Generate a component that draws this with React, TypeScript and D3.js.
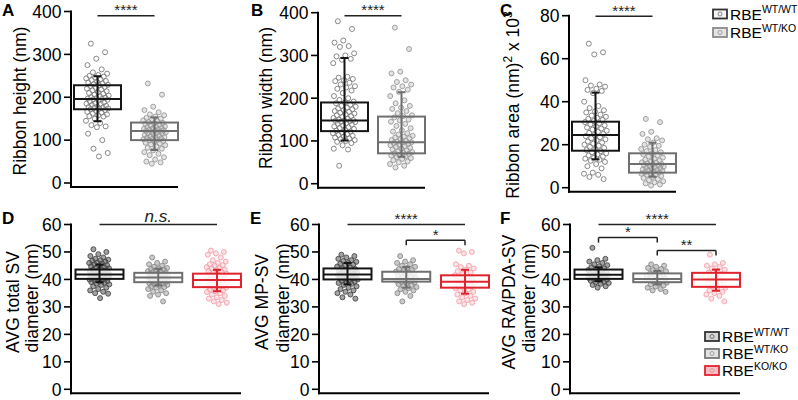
import React from 'react';
import * as d3 from 'd3';

const FONT = '"Liberation Sans", Arial, Helvetica, sans-serif';

const topGenotypes = ['WT/WT', 'WT/KO'];
const bottomGenotypes = ['WT/WT', 'WT/KO', 'KO/KO'];

const ribbonTicks = [0, 100, 200, 300, 400];
const areaTicks = [0, 20, 40, 60, 80];
const svTicks = [0, 10, 20, 30, 40, 50, 60];

// box stats per genotype: [whisker low, Q1, median, Q3, whisker high]
const heightBoxes = [[144, 172, 196, 228, 249], [77, 100, 121, 141, 153]];
const widthBoxes = [[101, 123, 148, 190, 294], [63, 71, 97, 157, 214]];
const areaBoxes = [[13.2, 17.2, 24.5, 30.7, 44.2], [5.1, 7, 11, 16, 20.9]];
const totalSvBoxes = [[39, 40.2, 41.8, 43.6, 45.4], [37.8, 39, 40.7, 42.4, 43.9], [35.7, 37.2, 39.8, 42.1, 43.5]];
const mpSvBoxes = [[38.2, 40, 41.8, 44, 46], [37, 39.2, 40.2, 42.8, 44.5], [34.8, 37, 39.2, 41.5, 43.5]];
const raSvBoxes = [[39.4, 40.2, 41.7, 43.6, 44.4], [38.2, 39, 40.2, 42.2, 43.1], [35.9, 37.3, 40, 42.4, 43.6]];

// individual ribbons (nm)
const heightWT = [325, 305, 290, 275, 265, 258, 255, 252, 250, 248, 246, 244, 242, 240, 238, 236, 234, 232, 230, 229, 228, 226, 224, 222, 220, 218, 216, 214, 212, 210, 208, 206, 204, 202, 200, 199, 198, 197, 196, 195, 194, 192, 190, 188, 186, 185, 184, 182, 180, 178, 177, 176, 175, 174, 173, 172, 170, 168, 166, 164, 162, 160, 158, 156, 155, 150, 145, 140, 135, 132, 130, 115, 100, 80, 70, 62];
const heightHet = [232, 206, 178, 170, 165, 160, 158, 155, 152, 150, 148, 146, 144, 142, 140, 139, 138, 136, 134, 132, 131, 130, 128, 127, 126, 125, 124, 123, 122, 121, 120, 119, 118, 117, 116, 115, 114, 112, 110, 108, 107, 106, 105, 104, 103, 102, 101, 100, 98, 96, 94, 92, 90, 88, 85, 82, 80, 76, 72, 68, 65, 60, 55, 50, 48, 45];
const widthWT = [380, 362, 335, 330, 322, 320, 305, 300, 298, 292, 290, 282, 250, 248, 245, 242, 240, 236, 232, 228, 225, 222, 218, 212, 205, 200, 196, 192, 190, 188, 185, 182, 180, 178, 176, 174, 172, 170, 168, 166, 164, 162, 160, 158, 156, 154, 152, 150, 149, 148, 147, 146, 145, 144, 142, 140, 138, 136, 134, 132, 130, 128, 126, 124, 122, 120, 118, 116, 114, 112, 110, 108, 106, 104, 102, 100, 98, 95, 90, 82, 80, 42];
const widthHet = [365, 315, 262, 258, 242, 238, 232, 228, 225, 220, 215, 205, 195, 188, 182, 178, 175, 170, 165, 160, 158, 155, 150, 148, 145, 140, 135, 130, 125, 122, 118, 115, 112, 110, 108, 106, 104, 102, 100, 98, 97, 96, 95, 93, 91, 90, 88, 86, 84, 82, 80, 78, 76, 74, 72, 71, 70, 68, 66, 64, 62, 60, 58, 55, 52, 50, 46, 42, 38];
// ribbon area (nm^2 x 10^3)
const areaWT = [67, 63, 62, 50, 48, 47.5, 47, 46, 45.5, 45, 44, 40, 38, 37, 36, 35.5, 35, 34, 33.5, 33, 32.5, 32, 31.5, 31, 30.5, 30, 29.5, 29, 28.5, 28, 27.5, 27, 26.5, 26, 25.5, 25, 24.5, 24, 23.5, 23, 22.5, 22, 21.5, 21, 20.5, 20, 19.5, 19, 18.5, 18, 17.5, 17, 16.5, 16, 15.5, 15, 14.5, 14, 13.5, 13, 12.5, 12, 11, 10, 9, 7, 6.5, 6, 5, 4];
const areaHet = [32, 30.5, 26, 25, 23, 22.5, 22, 21, 20, 19.5, 19, 18, 17.5, 17, 16.5, 16, 15.5, 15, 14.5, 14, 13.5, 13, 12.5, 12, 11.8, 11.5, 11.2, 11, 10.8, 10.5, 10.2, 10, 9.8, 9.5, 9.2, 9, 8.8, 8.5, 8.2, 8, 7.8, 7.5, 7.2, 7, 6.8, 6.5, 6.2, 6, 5.5, 5, 4.5, 4, 3.5, 3, 2.5, 2, 1.5, 1];

// synaptic vesicle diameters (nm)
const totalSvWT = [51, 50, 49.2, 48.5, 48, 47.5, 47.2, 47, 46.8, 46.5, 46.2, 46, 45.8, 45.5, 45.2, 45, 44.8, 44.5, 44.2, 44, 43.8, 43.5, 43.3, 43.1, 43, 42.8, 42.6, 42.4, 42.2, 42, 41.9, 41.8, 41.7, 41.6, 41.5, 41.4, 41.3, 41.2, 41, 40.8, 40.6, 40.5, 40.4, 40.3, 40.2, 40, 39.8, 39.6, 39.4, 39.2, 39, 38.8, 38.5, 38.2, 38, 37.5, 37, 36.5, 36, 35.5, 35, 34.8, 33.2];
const totalSvHet = [48, 46.5, 46, 45.5, 45, 44.6, 44.2, 44, 43.8, 43.5, 43.2, 43, 42.8, 42.6, 42.4, 42.2, 42, 41.8, 41.6, 41.4, 41.2, 41, 40.9, 40.8, 40.7, 40.6, 40.5, 40.4, 40.3, 40.2, 40, 39.8, 39.6, 39.4, 39.2, 39, 38.8, 38.6, 38.4, 38.2, 38, 37.8, 37.5, 37.2, 37, 36.5, 36, 35.5, 35, 34.5, 34, 32];
const totalSvKO = [50.5, 50, 49.5, 49, 48, 47, 46.5, 46, 45.5, 45.2, 45, 44.5, 44.2, 44, 43.6, 43.2, 43, 42.7, 42.4, 42.1, 41.8, 41.5, 41.2, 41, 40.7, 40.4, 40.2, 40, 39.8, 39.6, 39.4, 39.2, 39, 38.7, 38.4, 38.2, 38, 37.7, 37.4, 37.2, 37, 36.7, 36.4, 36, 35.7, 35.4, 35, 34.5, 34, 33.5, 33, 32.5, 32, 31.5, 31];
const mpSvWT = [49, 48.5, 48, 47.5, 47, 46.7, 46.4, 46, 45.7, 45.4, 45, 44.7, 44.4, 44.1, 43.8, 43.5, 43.2, 43, 42.8, 42.6, 42.4, 42.2, 42, 41.8, 41.6, 41.4, 41.2, 41, 40.8, 40.6, 40.4, 40.2, 40, 39.8, 39.5, 39.2, 39, 38.7, 38.4, 38, 37.5, 37, 36.5, 36, 35.5, 35, 34.5, 33.5, 33];
const mpSvHet = [48.5, 47, 46.5, 46, 45.5, 45, 44.6, 44.2, 43.8, 43.4, 43, 42.8, 42.5, 42.2, 42, 41.7, 41.4, 41.1, 40.8, 40.5, 40.3, 40.1, 39.9, 39.7, 39.5, 39.3, 39.1, 38.9, 38.6, 38.3, 38, 37.6, 37.2, 36.8, 36.4, 36, 35.5, 35, 34, 32];
const mpSvKO = [50.5, 50, 49.5, 45.5, 45, 44.5, 44, 43.5, 43, 42.5, 42, 41.5, 41, 40.6, 40.2, 39.8, 39.5, 39.2, 39, 38.7, 38.4, 38, 37.6, 37.2, 36.8, 36.4, 36, 35.5, 35, 34.5, 34, 33.5, 33, 32.5, 32, 31.5, 31];
const raSvWT = [51.5, 47.5, 47, 46.5, 46, 45.5, 45.2, 44.8, 44.4, 44, 43.7, 43.4, 43.1, 42.8, 42.5, 42.3, 42.1, 41.9, 41.7, 41.5, 41.3, 41.1, 40.9, 40.7, 40.5, 40.3, 40.1, 39.9, 39.7, 39.5, 39.2, 39, 38.7, 38.4, 38, 37.5, 37];
const raSvHet = [45.5, 45, 44.6, 44.2, 43.8, 43.4, 43, 42.6, 42.2, 41.8, 41.5, 41.2, 40.9, 40.6, 40.3, 40, 39.7, 39.4, 39.1, 38.8, 38.5, 38.2, 37.8, 37.4, 37, 36.5, 36, 35.5];
const raSvKO = [49, 46, 45.5, 45, 44.5, 44, 43.5, 43, 42.5, 42, 41.5, 41, 40.5, 40, 39.5, 39, 38.5, 38, 37.5, 37, 36.5, 36, 35.5, 35, 34.5, 34, 33, 32];

type Sig = { a: number; b: number; row: number; label: string; bracket?: boolean; italic?: boolean };

const ribbonSig: Sig[] = [{ a: 0, b: 1, row: 0, label: '****' }];
const totalSvSig: Sig[] = [{ a: 0, b: 2, row: 0, label: 'n.s.', italic: true }];
const mpSvSig: Sig[] = [
  { a: 0, b: 2, row: 0, label: '****' },
  { a: 1, b: 2, row: 1.2, label: '*', bracket: true },
];
const raSvSig: Sig[] = [
  { a: 0, b: 2, row: 0, label: '****' },
  { a: 0, b: 1, row: 1, label: '*', bracket: true },
  { a: 1, b: 2, row: 2, label: '**', bracket: true },
];

const BLACK = '#151515';
const GRAY = '#6f6f6f';
const RED = '#e0242e';

const topBoxColors = [BLACK, GRAY];
const topPtStroke = ['#7a7a7a', '#999999'];
const topPtFill = ['rgba(255,255,255,0.2)', 'rgba(175,175,175,0.35)'];
const bottomBoxColors = [BLACK, GRAY, RED];
const bottomPtStroke = ['#4a4a4a', '#8c8c8c', '#f2a3ab'];
const bottomPtFill = ['rgba(85,85,85,0.55)', 'rgba(150,150,150,0.5)', 'rgba(246,172,180,0.35)'];

// spread points sideways by index
const jitter = (i: number) => ((i * 0.6180339887 + 0.21) % 1) - 0.5;

type PanelProps = {
  axisX: number;
  yTop: number;
  yBottom: number;
  xLen: number;
  max: number;
  ticks: number[];
  genotypes: string[];
  centerRange: [number, number];
  data: number[][];
  boxes: number[][];
  colors: string[];
  ptStroke: string[];
  ptFill: string[];
  boxFill: string;
  boxW: number;
  spread: number;
  sigs: Sig[];
  sigY: number;
};

function Panel(p: PanelProps) {
  const y = d3.scaleLinear().domain([0, p.max]).range([p.yBottom, p.yTop]);
  const x = d3.scalePoint<string>().domain(p.genotypes).range([p.axisX + p.centerRange[0], p.axisX + p.centerRange[1]]);
  const xAxisY = p.yBottom + 4;
  const half = p.boxW / 2;

  return (
    <g>
      {/* axes */}
      <line x1={p.axisX} x2={p.axisX} y1={p.yTop - 1} y2={xAxisY + 1} stroke="#000" strokeWidth={2} />
      <line x1={p.axisX - 1} x2={p.axisX + p.xLen} y1={xAxisY} y2={xAxisY} stroke="#000" strokeWidth={2} />
      {p.ticks.map(t => (
        <g key={t}>
          <line x1={p.axisX - 7} x2={p.axisX} y1={y(t)} y2={y(t)} stroke="#000" strokeWidth={1.6} />
          <text x={p.axisX - 9.5} y={y(t)} dy="0.36em" textAnchor="end" fontSize={17.5} fontFamily={FONT} fill="#000">{t}</text>
        </g>
      ))}

      {/* points */}
      {p.data.map((vals, gi) => (
        <g key={'pts' + gi}>
          {vals.map((v, i) => (
            <circle key={i} cx={(x(p.genotypes[gi]) as number) + jitter(i) * 2 * p.spread} cy={y(v)} r={2.5}
              fill={p.ptFill[gi]} stroke={p.ptStroke[gi]} strokeWidth={0.9} />
          ))}
        </g>
      ))}

      {/* boxes + whiskers */}
      {p.boxes.map((b, gi) => {
        const cx = x(p.genotypes[gi]) as number;
        const col = p.colors[gi];
        return (
          <g key={'box' + gi}>
            <rect x={cx - half} y={y(b[3])} width={p.boxW} height={y(b[1]) - y(b[3])}
              fill={p.boxFill} fillOpacity={p.boxFill === 'none' ? 1 : 0.82} stroke={col} strokeWidth={2} />
            <line x1={cx - half} x2={cx + half} y1={y(b[2])} y2={y(b[2])} stroke={col} strokeWidth={2} />
            <line x1={cx} x2={cx} y1={y(b[0])} y2={y(b[4])} stroke={col} strokeWidth={2} />
            <line x1={cx - 4} x2={cx + 4} y1={y(b[4])} y2={y(b[4])} stroke={col} strokeWidth={2} />
            <line x1={cx - 4} x2={cx + 4} y1={y(b[0])} y2={y(b[0])} stroke={col} strokeWidth={2} />
          </g>
        );
      })}

      {/* significance */}
      {p.sigs.map((s, i) => {
        const x1 = x(p.genotypes[s.a]) as number;
        const x2 = x(p.genotypes[s.b]) as number;
        const ly = p.sigY + s.row * 13;
        return (
          <g key={'sig' + i}>
            <line x1={x1} x2={x2} y1={ly} y2={ly} stroke="#222" strokeWidth={1.5} />
            {s.bracket && <line x1={x1} x2={x1} y1={ly} y2={ly + 5} stroke="#222" strokeWidth={1.5} />}
            {s.bracket && <line x1={x2} x2={x2} y1={ly} y2={ly + 5} stroke="#222" strokeWidth={1.5} />}
            <text x={(x1 + x2) / 2} y={s.italic ? ly - 3 : ly - 0.5} textAnchor="middle" fontFamily={FONT}
              fontSize={s.italic ? 17 : 15} fontStyle={s.italic ? 'italic' : 'normal'} fill="#222">{s.label}</text>
          </g>
        );
      })}
    </g>
  );
}

function Letter({ x, y, t }: { x: number; y: number; t: string }) {
  return <text x={x} y={y} fontFamily={FONT} fontWeight="bold" fontSize={17} fill="#000">{t}</text>;
}

function YLabel({ x, y, children }: { x: number; y: number; children: React.ReactNode }) {
  return (
    <text transform={`translate(${x},${y}) rotate(-90)`} textAnchor="middle" fontFamily={FONT} fontSize={17.5} fill="#000">
      {children}
    </text>
  );
}

function Legend({ x, y, rows, borders, fills, dots, step }: { x: number; y: number; rows: string[]; borders: string[]; fills: string[]; dots: string[]; step: number }) {
  return (
    <g>
      {rows.map((r, i) => (
        <g key={r} transform={`translate(${x},${y + i * step})`}>
          <rect x={0} y={-4.5} width={14} height={9} fill={fills[i]} stroke={borders[i]} strokeWidth={1.8} />
          <circle cx={7} cy={0} r={2} fill="none" stroke={dots[i]} strokeWidth={0.9} />
          <text x={17} y={5.5} fontFamily={FONT} fontSize={15.5} fill="#000">
            RBE<tspan fontSize={10.5} dy={-6.5}>{r}</tspan>
          </text>
        </g>
      ))}
    </g>
  );
}

export default function App() {
  const top = {
    yBottom: 0, genotypes: topGenotypes, colors: topBoxColors, ptStroke: topPtStroke, ptFill: topPtFill,
    boxFill: 'none', boxW: 47, spread: 11.5, sigs: ribbonSig, xLen: 107,
    centerRange: [26.5, 83.5] as [number, number],
  };
  const bottom = {
    genotypes: bottomGenotypes, colors: bottomBoxColors, ptStroke: bottomPtStroke, ptFill: bottomPtFill,
    boxFill: '#ffffff', boxW: 48, spread: 10.5, xLen: 170, max: 60, ticks: svTicks,
    yTop: 224.5, yBottom: 389.3, centerRange: [28.5, 146] as [number, number], sigY: 224.6,
  };

  return (
    <svg width={798} height={400} style={{ position: 'absolute', left: 0, top: 0, background: '#fff' }}>
      <rect width={798} height={400} fill="#fff" />

      <Panel {...top} axisX={71} yTop={11.5} yBottom={183} max={400} ticks={ribbonTicks}
        data={[heightWT, heightHet]} boxes={heightBoxes} sigY={15.7} />
      <Panel {...top} axisX={318} yTop={12.7} yBottom={183.7} max={400} ticks={ribbonTicks}
        data={[widthWT, widthHet]} boxes={widthBoxes} sigY={15.7} />
      <Panel {...top} axisX={569} yTop={15.7} yBottom={187.7} max={80} ticks={areaTicks}
        data={[areaWT, areaHet]} boxes={areaBoxes} sigY={16.3} />

      <Panel {...bottom} axisX={71} data={[totalSvWT, totalSvHet, totalSvKO]} boxes={totalSvBoxes} sigs={totalSvSig} />
      <Panel {...bottom} axisX={319} data={[mpSvWT, mpSvHet, mpSvKO]} boxes={mpSvBoxes} sigs={mpSvSig} />
      <Panel {...bottom} axisX={570} data={[raSvWT, raSvHet, raSvKO]} boxes={raSvBoxes} sigs={raSvSig} />

      <Letter x={2} y={16} t="A" />
      <Letter x={251} y={16} t="B" />
      <Letter x={500} y={16} t="C" />
      <Letter x={2} y={224} t="D" />
      <Letter x={250} y={224} t="E" />
      <Letter x={500} y={224} t="F" />

      <YLabel x={25.5} y={101}>Ribbon height (nm)</YLabel>
      <YLabel x={272} y={98}>Ribbon width (nm)</YLabel>
      <YLabel x={519} y={105}>
        Ribbon area (nm)<tspan fontSize={12} dy={-7}>2</tspan><tspan dy={7}> x 10</tspan><tspan fontSize={12} dy={-7}>3</tspan>
      </YLabel>

      <YLabel x={18.5} y={302}>AVG total SV</YLabel>
      <YLabel x={37.5} y={298}>diameter (nm)</YLabel>
      <YLabel x={268} y={302}>AVG MP-SV</YLabel>
      <YLabel x={288.5} y={298}>diameter (nm)</YLabel>
      <YLabel x={514.5} y={302}>AVG RA/PDA-SV</YLabel>
      <YLabel x={534.5} y={298}>diameter (nm)</YLabel>

      <Legend x={713} y={14} step={18.5} rows={['WT/WT', 'WT/KO']}
        borders={['#333', '#8a8a8a']} fills={['#f4f4f4', '#e4e4e4']} dots={['#777', '#999']} />
      <Legend x={705} y={336.5} step={17} rows={['WT/WT', 'WT/KO', 'KO/KO']}
        borders={['#333', '#777', RED]} fills={['#d6d6d6', '#e2e2e2', '#f6c2c7']} dots={['#666', '#999', '#f08a94']} />
    </svg>
  );
}
